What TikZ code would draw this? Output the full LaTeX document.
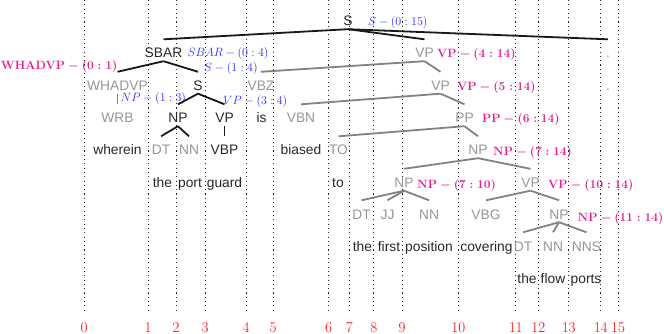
\documentclass[tikz,border=0pt]{standalone}
\usepackage{fontspec}
\setsansfont{Liberation Sans}
\definecolor{annblue}{RGB}{40,40,250}
\definecolor{annpink}{RGB}{232,28,140}
\definecolor{lblgray}{RGB}{150,150,150}
\definecolor{lbldark}{RGB}{40,40,40}
\definecolor{edgegray}{RGB}{130,130,130}
\begin{document}
\begin{tikzpicture}[x=1pt,y=-1pt,
 lbl/.style={inner sep=0pt,text height=10pt,text depth=0pt,font=\fontsize{13.8}{14}\sffamily},
 act/.style={lbl,text=lbldark},
 inact/.style={lbl,text=lblgray},
 word/.style={lbl,text=lbldark},
 ablue/.style={inner sep=0pt,anchor=base west,text=annblue,font=\fontsize{12.2}{14}\selectfont},
 apink/.style={inner sep=0pt,anchor=base west,text=annpink,font=\fontsize{12}{14}\selectfont\boldmath},
 edgeact/.style={line width=1.8pt,black!90},
 edgeinact/.style={line width=1.8pt,edgegray},
 tick/.style={dash pattern=on 1.1pt off 3.2pt,line width=0.9pt,black!85},
 num/.style={text=red,font=\fontsize{15}{16}\selectfont,anchor=base,inner sep=0pt}]
\useasboundingbox (0,0) rectangle (664,334);
% position lines and indices
\foreach \i/\x in {0/84,1/148,2/176,3/205,4/246,5/273,6/328.5,7/349.3,8/373.7,9/402,10/458.3,11/515.7,12/538.3,13/568.7,14/600.7,15/618}{
  \coordinate (t\i) at (\x,0);
  \coordinate (b\i) at (\x,313);
  \draw[tick] (t\i) -- (b\i);
  \node[num] (n\i) at (\x,332.5) {\i};
}
% annotations
\node[ablue] (aS0) at (368,26) {$S-(0:15)$};
\node[ablue] (aSBAR) at (187.5,57) {$SBAR-(0:4)$};
\node[ablue] (aS14) at (204,71.5) {$S-(1:4)$};
\node[ablue] (aNP13) at (120.5,102) {$NP-(1:3)$};
\node[ablue] (aVP34) at (223,105) {$VP-(3:4)$};
\node[apink,anchor=base east] (aWHADVP) at (117.5,69.5) {$\mathbf{WHADVP}-(0:1)$};
\node[apink] (aVP414) at (437,57.5) {$\mathbf{VP}-(4:14)$};
\node[apink] (aVP514) at (457,90.5) {$\mathbf{VP}-(5:14)$};
\node[apink] (aPP) at (482,123) {$\mathbf{PP}-(6:14)$};
\node[apink] (aNP714) at (493,156) {$\mathbf{NP}-(7:14)$};
\node[apink] (aNP710) at (417,189) {$\mathbf{NP}-(7:10)$};
\node[apink] (aVP1014) at (548,188.5) {$\mathbf{VP}-(10:14)$};
\node[apink,anchor=base east] (aNP1114) at (663.5,221) {$\mathbf{NP}-(11:14)$};
% tree labels
\node[act] (S0) at (348,21) {S};
\node[act] (SBAR) at (163.5,53) {SBAR};
\node[inact] (VP414) at (424.5,53) {VP};
\node[inact] (dotA) at (608,53) {.};
\node[inact] (WHADVP) at (117.5,85.5) {WHADVP};
\node[act] (S14) at (198,85.5) {S};
\node[inact] (VBZ) at (261,85.5) {VBZ};
\node[inact] (VP514) at (440.5,85.5) {VP};
\node[inact] (dotB) at (608,85.5) {.};
\node[inact] (WRB) at (117.5,118) {WRB};
\node[act] (NP13) at (178,118) {NP};
\node[act] (VP34) at (224.5,118) {VP};
\node[word] (is) at (261.5,118) {is};
\node[inact] (VBN) at (301,118) {VBN};
\node[inact] (PP) at (464.5,118) {PP};
\node[word] (wherein) at (117.5,150) {wherein};
\node[inact] (DT1) at (161,150) {DT};
\node[inact] (NN1) at (189,150) {NN};
\node[act] (VBP) at (224.5,150) {VBP};
\node[word] (biased) at (301,150) {biased};
\node[inact] (TO) at (338.5,150) {TO};
\node[inact] (NP714) at (478,150) {NP};
\node[word] (the1) at (162.5,182.5) {the};
\node[word] (port) at (190,182.5) {port};
\node[word] (guard) at (224.5,182.5) {guard};
\node[word] (to) at (338,182.5) {to};
\node[inact] (NP710) at (404,182.5) {NP};
\node[inact] (VP1014) at (530.5,182.5) {VP};
\node[inact] (DT2) at (361.5,214) {DT};
\node[inact] (JJ) at (387.5,214) {JJ};
\node[inact] (NN2) at (429,214) {NN};
\node[inact] (VBG) at (486,214) {VBG};
\node[inact] (NP1114) at (559,214) {NP};
\node[word] (the2) at (362.5,246) {the};
\node[word] (first) at (389,246) {first};
\node[word] (position) at (429,246) {position};
\node[word] (covering) at (486.5,246) {covering};
\node[inact] (DT3) at (523,246) {DT};
\node[inact] (NN3) at (553,246) {NN};
\node[inact] (NNS) at (586.5,246) {NNS};
\node[word] (the3) at (527,278) {the};
\node[word] (flow) at (553,278) {flow};
\node[word] (ports) at (586,278) {ports};
% edges
\foreach \p/\c in {S0/SBAR,S0/VP414,S0/dotA,SBAR/WHADVP,SBAR/S14,S14/NP13,S14/VP34,NP13/DT1,NP13/NN1,VP34/VBP}
  \draw[edgeact] ([yshift=-3pt]\p.south) -- ([yshift=8.5pt]\c.north);
\foreach \p/\c in {WHADVP/WRB,VP414/VBZ,VP414/VP514,VP514/VBN,VP514/PP,PP/TO,PP/NP714,NP714/NP710,NP714/VP1014,NP710/DT2,NP710/JJ,NP710/NN2,VP1014/VBG,VP1014/NP1114,NP1114/DT3,NP1114/NN3,NP1114/NNS}
  \draw[edgeinact] ([yshift=-3pt]\p.south) -- ([yshift=8.5pt]\c.north);
\end{tikzpicture}
\end{document}
